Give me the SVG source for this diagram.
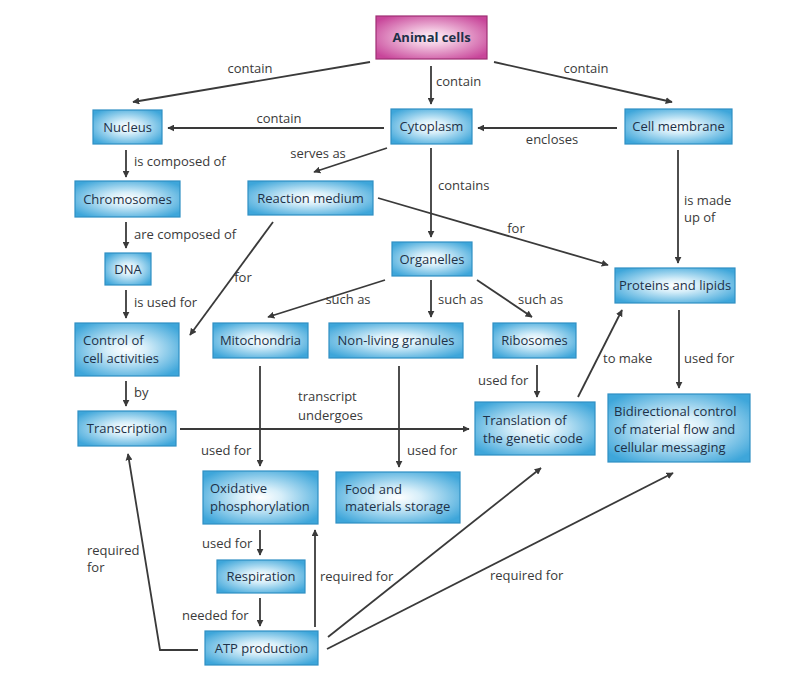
<svg xmlns="http://www.w3.org/2000/svg" width="800" height="684" viewBox="0 0 800 684">
<defs>
<radialGradient id="gb" cx="50%" cy="50%" r="62%">
<stop offset="0" stop-color="#ffffff"/>
<stop offset="0.3" stop-color="#d6eef9"/>
<stop offset="1" stop-color="#3ea6da"/>
</radialGradient>
<radialGradient id="gp" cx="50%" cy="50%" r="62%">
<stop offset="0" stop-color="#fdf2f8"/>
<stop offset="0.3" stop-color="#f2c6e0"/>
<stop offset="1" stop-color="#c8469a"/>
</radialGradient>
<marker id="ah" viewBox="0 0 10 10" refX="9" refY="5" markerWidth="7" markerHeight="7" markerUnits="userSpaceOnUse" orient="auto">
<path d="M0,0 L10,5 L0,10 z" fill="#3a3a3a"/>
</marker>
<style>
.b rect{fill:url(#gb);stroke:#2f8fc4;stroke-width:1.2}
.p rect{fill:url(#gp);stroke:#9e2f74;stroke-width:1.2}
text{font-family:"Open Sans","Noto Sans","Liberation Sans",sans-serif;font-size:13px}
.n text{fill:#1d3148;text-anchor:middle}
.n text.l{text-anchor:start}
.lab{fill:#3a3a3a}
#edges path,#edges line,#edges polyline{stroke:#3a3a3a;stroke-width:1.8;fill:none;marker-end:url(#ah)}
</style>
</defs>
<rect width="800" height="684" fill="#ffffff"/>

<g id="edges">
<line x1="370" y1="62" x2="133" y2="102"/>
<line x1="431" y1="66" x2="431" y2="104"/>
<line x1="494" y1="62" x2="672" y2="102"/>
<line x1="384" y1="128" x2="168" y2="128"/>
<line x1="617" y1="128" x2="478" y2="128"/>
<line x1="387" y1="148" x2="314" y2="172"/>
<line x1="431" y1="148" x2="431" y2="237"/>
<line x1="378" y1="198" x2="608" y2="265"/>
<line x1="273" y1="222" x2="190" y2="335"/>
<line x1="126" y1="150" x2="126" y2="177"/>
<line x1="126" y1="222" x2="126" y2="248"/>
<line x1="126" y1="290" x2="126" y2="318"/>
<line x1="126" y1="381" x2="126" y2="406"/>
<line x1="180" y1="429" x2="469" y2="429"/>
<line x1="385" y1="280" x2="268" y2="317"/>
<line x1="431" y1="280" x2="431" y2="317"/>
<line x1="477" y1="280" x2="532" y2="317"/>
<line x1="260" y1="366" x2="260" y2="466"/>
<line x1="399" y1="366" x2="399" y2="467"/>
<line x1="537" y1="365" x2="537" y2="397"/>
<line x1="578" y1="397" x2="622" y2="310"/>
<line x1="678" y1="150" x2="678" y2="263"/>
<line x1="679" y1="310" x2="679" y2="388"/>
<line x1="260" y1="530" x2="260" y2="555"/>
<line x1="260" y1="598" x2="260" y2="626"/>
<line x1="315" y1="627" x2="315" y2="530"/>
<line x1="328" y1="637" x2="541" y2="468"/>
<line x1="327" y1="649" x2="673" y2="473"/>
<polyline points="198,650 160,650 128,454"/>
</g>

<g id="labels" class="lab">
<text x="250" y="73" text-anchor="middle">contain</text>
<text x="436" y="86">contain</text>
<text x="586" y="73" text-anchor="middle">contain</text>
<text x="279" y="123" text-anchor="middle">contain</text>
<text x="552" y="144" text-anchor="middle">encloses</text>
<text x="318" y="158" text-anchor="middle">serves as</text>
<text x="438" y="190">contains</text>
<text x="516" y="233" text-anchor="middle">for</text>
<text x="243" y="282" text-anchor="middle">for</text>
<text x="134" y="166">is composed of</text>
<text x="134" y="239">are composed of</text>
<text x="134" y="307">is used for</text>
<text x="134" y="397">by</text>
<text x="298" y="401">transcript</text>
<text x="298" y="420">undergoes</text>
<text x="348" y="304" text-anchor="middle">such as</text>
<text x="438" y="304">such as</text>
<text x="518" y="304">such as</text>
<text x="201" y="455">used for</text>
<text x="407" y="455">used for</text>
<text x="478" y="385">used for</text>
<text x="603" y="363">to make</text>
<text x="684" y="205">is made</text>
<text x="684" y="222">up of</text>
<text x="684" y="363">used for</text>
<text x="202" y="548">used for</text>
<text x="182" y="620">needed for</text>
<text x="320" y="581">required for</text>
<text x="490" y="580">required for</text>
<text x="87" y="555">required</text>
<text x="87" y="572">for</text>
</g>

<g id="animal" class="n p"><rect x="376" y="16" width="111" height="43"/><text x="431.5" y="42" font-weight="bold" fill="#3a1a30">Animal cells</text></g>
<g id="nucleus" class="n b"><rect x="93" y="110" width="69" height="34"/><text x="127.5" y="132">Nucleus</text></g>
<g id="cytoplasm" class="n b"><rect x="391" y="109" width="81" height="35"/><text x="431.5" y="131">Cytoplasm</text></g>
<g id="membrane" class="n b"><rect x="625" y="109" width="107" height="35"/><text x="678.5" y="131">Cell membrane</text></g>
<g id="chromosomes" class="n b"><rect x="75" y="181" width="105" height="36"/><text x="127.5" y="204">Chromosomes</text></g>
<g id="reaction" class="n b"><rect x="248" y="181" width="125" height="34"/><text x="310.5" y="203">Reaction medium</text></g>
<g id="organelles" class="n b"><rect x="392" y="242" width="80" height="34"/><text x="432" y="264">Organelles</text></g>
<g id="dna" class="n b"><rect x="105" y="253" width="46" height="32"/><text x="128" y="274">DNA</text></g>
<g id="proteins" class="n b"><rect x="615" y="268" width="120" height="35"/><text x="675" y="290">Proteins and lipids</text></g>
<g id="control" class="n b"><rect x="75" y="323" width="104" height="53"/><text class="l" x="83" y="345">Control of</text><text class="l" x="83" y="363">cell activities</text></g>
<g id="mito" class="n b"><rect x="213" y="323" width="95" height="35"/><text x="260.5" y="345">Mitochondria</text></g>
<g id="granules" class="n b"><rect x="329" y="323" width="134" height="35"/><text x="396" y="345">Non-living granules</text></g>
<g id="ribosomes" class="n b"><rect x="493" y="323" width="83" height="35"/><text x="534.5" y="345">Ribosomes</text></g>
<g id="transcription" class="n b"><rect x="78" y="411" width="98" height="35"/><text x="127" y="433">Transcription</text></g>
<g id="translation" class="n b"><rect x="475" y="402" width="120" height="53"/><text class="l" x="483" y="425">Translation of</text><text class="l" x="483" y="443">the genetic code</text></g>
<g id="bidirectional" class="n b"><rect x="608" y="394" width="142" height="68"/><text class="l" x="614" y="416">Bidirectional control</text><text class="l" x="614" y="434">of material flow and</text><text class="l" x="614" y="452">cellular messaging</text></g>
<g id="oxidative" class="n b"><rect x="203" y="471" width="115" height="53"/><text class="l" x="210" y="493">Oxidative</text><text class="l" x="210" y="511">phosphorylation</text></g>
<g id="food" class="n b"><rect x="336" y="472" width="124" height="51"/><text class="l" x="345" y="494">Food and</text><text class="l" x="345" y="511">materials storage</text></g>
<g id="respiration" class="n b"><rect x="217" y="560" width="88" height="33"/><text x="261" y="581">Respiration</text></g>
<g id="atp" class="n b"><rect x="205" y="631" width="113" height="34"/><text x="261.5" y="653">ATP production</text></g>
</svg>
